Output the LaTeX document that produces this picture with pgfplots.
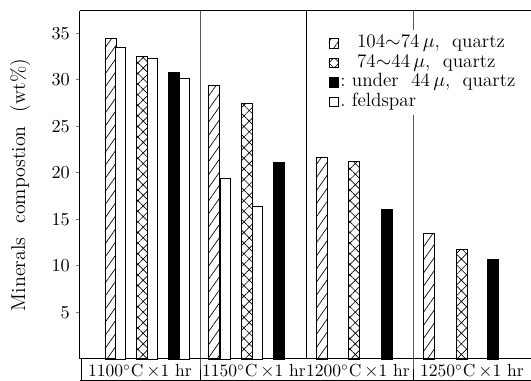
\documentclass[border=0pt]{standalone}
\usepackage{pgfplots}
\pgfplotsset{compat=1.18}
\usetikzlibrary{patterns.meta}
\pgfplotsset{
  mybar/.style={ybar, bar shift=0pt, line width=0.5pt, draw=black,
    legend image code/.code={\draw[##1] (0pt,-2.8pt) rectangle (5.6pt,2.8pt);}},
}
\tikzset{grplab/.style={anchor=base, inner sep=0pt, font=\fontsize{10.5}{12}\selectfont}}
\begin{document}
\begin{tikzpicture}
\begin{axis}[
  name=ax,
  scale only axis,
  width=270.6pt, height=208.8pt,
  xmin=0, xmax=451, ymin=0, ymax=37.38,
  axis x line*=bottom, axis y line*=left,
  axis line style={-, line width=0.6pt},
  clip=false,
  ytick={5,10,...,35},
  tick align=outside,
  major tick length=2.6pt,
  ytick style={line width=0.5pt},
  yticklabel style={font=\fontsize{11}{13}\selectfont},
  xtick=\empty,
  legend style={at={(axis description cs:0.543,0.945)}, anchor=north west, draw=none, fill=white,
    font=\fontsize{11.5}{13}\selectfont, inner sep=2pt,
    nodes={inner sep=1pt, text height=7.5pt, text depth=2.2pt}},
  legend cell align=left,
]
\draw[line width=0.6pt] (axis cs:0,37.38) -- (axis cs:451,37.38);
\draw[line width=0.5pt] (axis cs:120,37.38) -- (axis cs:120,0) -- ++(0,-12.6pt);
\draw[line width=0.5pt] (axis cs:226,37.38) -- (axis cs:226,0);
\draw[line width=0.5pt] (axis cs:333,37.38) -- (axis cs:333,0) -- ++(0,-12.6pt);
\draw[line width=0.5pt] (axis cs:1,0) -- ++(0,-12.6pt);
\draw[line width=0.4pt] (axis cs:0,0) ++(0,-12.6pt) -- ++(270.6pt,0);
\node[rotate=90, anchor=center, font=\fontsize{12}{14}\selectfont]
  at (axis description cs:-0.133,0.5) {Minerals\hspace{0.7em}compostion\hspace{0.7em}(wt\%)};
\node[grplab] at ([yshift=-10.6pt]axis cs:60,0) {1100$^\circ$C\,$\times$1 hr};
\node[grplab] at ([yshift=-10.6pt]axis cs:174,0) {1150$^\circ$C\,$\times$1 hr};
\node[grplab] at ([yshift=-10.6pt]axis cs:278,0) {1200$^\circ$C\,$\times$1 hr};
\node[grplab] at ([yshift=-10.6pt]axis cs:392,0) {1250$^\circ$C\,$\times$1 hr};

\addplot[mybar, bar width=11, pattern={Lines[angle=55,distance=4.5pt,line width=0.4pt]}]
  coordinates {(30.5,34.4) (134,29.4) (241.5,21.7) (349,13.5)};
\addlegendentry{\hspace{10pt}104$\sim$74\,$\mu$,\ \ quartz}
\addplot[mybar, bar width=11, pattern={Hatch[angle=45,distance=4.5pt,line width=0.4pt]}]
  coordinates {(61.5,32.5) (166.5,27.4) (274,21.2) (381.5,11.8)};
\addlegendentry{\hspace{10pt}74$\sim$44\,$\mu$,\ \ quartz}
\addplot[mybar, bar width=11, fill=black]
  coordinates {(94,30.8) (199,21.1) (307,16.1) (412.5,10.7)};
\addlegendentry{:\ under\ \ 44\,$\mu$,\ \ quartz}
\addplot[mybar, bar width=10, fill=white]
  coordinates {(40.5,33.5) (72,32.3) (104,30.1) (145.5,19.4) (177.5,16.4)};
\addlegendentry{.\ feldspar}
\end{axis}
\pgfresetboundingbox
\useasboundingbox ([xshift=-48pt,yshift=-13.2pt]ax.south west) rectangle ([yshift=6.6pt]ax.north east);
\end{tikzpicture}
\end{document}
